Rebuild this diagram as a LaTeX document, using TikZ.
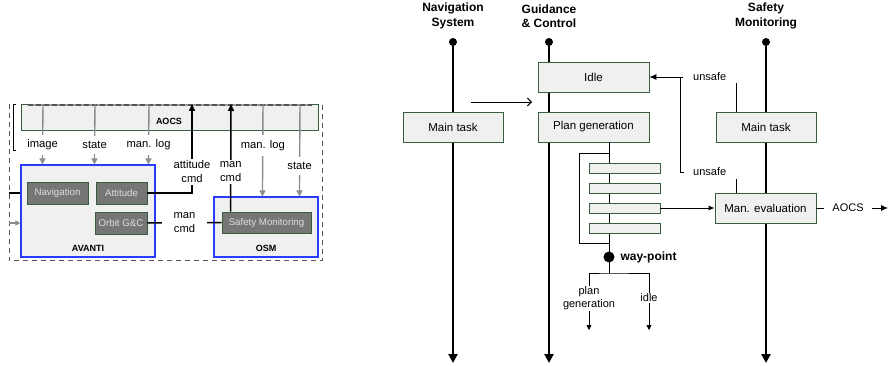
\documentclass[tikz,border=0pt]{standalone}
\usepackage{fontspec}
\setmainfont{Liberation Sans}
\usetikzlibrary{arrows.meta, positioning}
\definecolor{boxfill}{RGB}{240,240,240}
\definecolor{boxline}{RGB}{56,94,64}
\definecolor{darkfill}{RGB}{118,118,118}
\definecolor{darktext}{RGB}{222,222,222}
\definecolor{groupblue}{RGB}{40,60,255}
\definecolor{feedgray}{RGB}{140,140,140}
\definecolor{framegray}{RGB}{85,85,85}

\begin{document}
\begin{tikzpicture}[x=1pt, y=-1pt, >=Stealth,
    box/.style={draw=boxline, fill=boxfill, line width=0.8pt, inner sep=0pt, minimum height=30pt, font=\fontsize{11.5}{13}\selectfont},
    unit/.style={draw=boxline, fill=darkfill, text=darktext, line width=0.9pt, inner sep=0pt, minimum height=22pt, font=\fontsize{9.7}{11}\selectfont},
    group/.style={draw=groupblue, fill=boxfill, line width=1.1pt, inner sep=0pt},
    grouplabel/.style={font=\fontsize{9}{10}\selectfont\bfseries},
    feed/.style={draw=feedgray, line width=1.4pt, -{Triangle[width=6pt,length=6pt]}},
    cmd/.style={line width=1.5pt, -{Triangle[width=6pt,length=7pt]}},
    lbl/.style={font=\fontsize{11.2}{13.5}\selectfont, align=center, inner xsep=2pt, inner ysep=5pt},
    head/.style={font=\fontsize{12}{14.5}\selectfont\bfseries, align=center},
    lifeline/.style={line width=2.6pt, -{Triangle[width=9pt,length=9pt]}},
    stepbox/.style={draw=boxline, fill=boxfill, line width=0.8pt, minimum width=71pt, minimum height=10pt, inner sep=0pt},
    note/.style={font=\fontsize{11}{13}\selectfont, align=center, inner sep=1pt},
    wire/.style={line width=0.8pt}]

    \useasboundingbox (0,0) rectangle (892,366);

    % Frame of the on-board software
    \draw[framegray, line width=1pt, dash pattern=on 5pt off 4pt] (9,104) -- (9,261) -- (322,261) -- (322,104);
    \draw[line width=0.9pt] (16,104) -- (13,104) -- (13,150) -- (16,150);

    % AOCS
    \node[box, minimum width=297pt, minimum height=26pt, anchor=north west] (aocs) at (21,104) {};
    \node[grouplabel] (aocslbl) at (169,121) {AOCS};
    \draw[line width=2.4pt, framegray!60] (28,105) -- (312,105);
    \draw[line width=2.4pt, framegray, dash pattern=on 5pt off 3pt] (28,105) -- (312,105);

    % AVANTI and OSM
    \node[group, minimum width=134pt, minimum height=92pt] (avanti) at (88,211) {};
    \node[grouplabel] (avantilbl) at (88,248) {AVANTI};
    \node[group, minimum width=104pt, minimum height=60pt] (osm) at (266,227) {};
    \node[grouplabel] (osmlbl) at (266,248) {OSM};
    \node[unit, minimum width=61pt] (nav) at (57.5,193) {Navigation};
    \node[unit, minimum width=51pt] (att) at (121.5,193) {Attitude};
    \node[unit, minimum width=52pt] (orbit) at (121,223) {Orbit G\&C};
    \node[unit, minimum width=89pt, minimum height=21pt] (safety) at (266.5,222.5) {Safety Monitoring};

    % Data from the AOCS
    \foreach \dx/\txt in {22/image, 74/state, 128/man. log}
        \draw[feed] ([xshift=\dx pt]aocs.north west) -- node[lbl, fill=white, pos=0.68] {\txt} ([xshift=\dx pt]avanti.north west);
    \draw[feed] ([xshift=242pt]aocs.north west) -- node[lbl, fill=white, pos=0.45] {man. log} ([xshift=49pt]osm.north west);
    \draw[feed] ([xshift=279pt]aocs.north west) -- node[lbl, fill=white, pos=0.67] {state} ([xshift=86pt]osm.north west);

    % Commands
    \draw[cmd] (att.east) -| node[lbl, fill=white, pos=0.62, inner ysep=2pt] {attitude\\cmd} ([xshift=171pt]aocs.north west);
    \draw[cmd] ([xshift=9pt]safety.north west) -- node[lbl, fill=white, pos=0.37, inner ysep=2pt] {man\\cmd} ([xshift=210pt]aocs.north west);
    \draw[line width=1.5pt] (orbit.east) -- node[lbl, fill=white, inner xsep=12pt, inner ysep=1pt] {man\\cmd} (safety.west);

    % Links at the left edge
    \coordinate (leftin) at (9,193);
    \coordinate (leftfeed) at (9,223);
    \draw[line width=1.5pt] (leftin) -- (avanti.west |- nav);
    \draw[feed, line width=1.2pt, -{Triangle[width=5pt,length=5pt]}] (leftfeed) -- (avanti.west |- orbit);

    % Lifelines
    \node[head] (navhead) at (453,16) {Navigation\\System};
    \node[head] (gchead) at (549,16) {Guidance\\\& Control};
    \node[head] (smhead) at (766,16) {Safety\\Monitoring};
    \coordinate (navtop) at (453,42);
    \coordinate (gctop) at (549,42);
    \coordinate (smtop) at (766,42);
    \coordinate (navend) at (453,363);
    \coordinate (gcend) at (549,363);
    \coordinate (smend) at (766,363);
    \foreach \l in {nav, gc, sm} {
        \draw[lifeline] (\l top) -- (\l end);
        \fill (\l top) circle (4pt);
    }

    % Tasks
    \node[box, minimum width=111pt] (idle) at (593.5,77) {Idle};
    \node[box, minimum width=111pt] (plan) at (593.5,127) {Plan generation};
    \node[box, minimum width=100pt] (navmain) at (453,127) {Main task};
    \node[box, minimum width=100pt] (smmain) at (766,127) {Main task};
    \node[box, minimum width=101pt] (maneval) at (765.5,208) {Man. evaluation};

    % Nav to G&C
    \coordinate (navmsg) at (471,102);
    \coordinate (gcmsg) at (532,102);
    \draw[wire, line width=0.9pt, -{Straight Barb[length=4pt,width=8pt]}] (navmsg) -- (gcmsg);

    % Plan steps
    \coordinate (wp) at (609,257);
    \draw[wire] (plan.south -| wp) -- (wp);
    \draw[wire] (609,153) -- (579,153) -- (579,243) -- (609,243);
    \foreach \i/\y in {1/168, 2/188, 3/208, 4/228}
        \node[stepbox] (step\i) at (624.5,\y) {};
    \draw[wire, -{Latex[length=6pt,width=5pt]}] (step3.east) -- (maneval.west);

    % Way-point
    \fill (wp) circle (5.5pt);
    \node[font=\fontsize{12}{14}\selectfont\bfseries, anchor=west] (wplbl) at (617,257) {way-point};
    \coordinate (split) at (609,273);
    \node[note] (pglbl) at (589,298.5) {plan\\generation};
    \node[note] (idlelbl) at (649,298) {idle};
    \coordinate (pgend) at (589,330);
    \coordinate (idleend) at (649,330);
    \draw[wire] (wp) -- (split);
    \draw[wire] (pglbl.north) |- (split) -| (idlelbl.north);
    \draw[wire, -{Triangle[width=5pt,length=5pt]}] (pglbl.south) -- (pgend);
    \draw[wire, -{Triangle[width=5pt,length=5pt]}] (idlelbl.south) -- (idleend);

    % Unsafe
    \node[note, anchor=west, inner sep=0pt] (unsafe1) at (693,77) {unsafe};
    \node[note, anchor=west, inner sep=0pt] (unsafe2) at (693,172) {unsafe};
    \draw[wire, -{Latex[length=7pt,width=6pt]}] ([xshift=-10pt]unsafe1.west) -- (idle.east);
    \draw[wire] ([xshift=-9pt]unsafe2.west) -| ([xshift=-13pt]unsafe1.west);
    \draw[wire] ([xshift=-30pt,yshift=29pt]smmain.north) -- ([xshift=-30pt]smmain.north);
    \draw[wire] ([xshift=-29.5pt,yshift=14pt]maneval.north) -- ([xshift=-29.5pt]maneval.north);

    % Output to AOCS
    \node[note, inner xsep=8pt] (aocsout) at (848,208) {AOCS};
    \coordinate (aocsend) at (888,208);
    \draw[wire] (maneval.east) -- (aocsout.west);
    \draw[wire, -{Latex[length=7pt,width=6pt]}] (aocsout.east) -- (aocsend);
\end{tikzpicture}
\end{document}
